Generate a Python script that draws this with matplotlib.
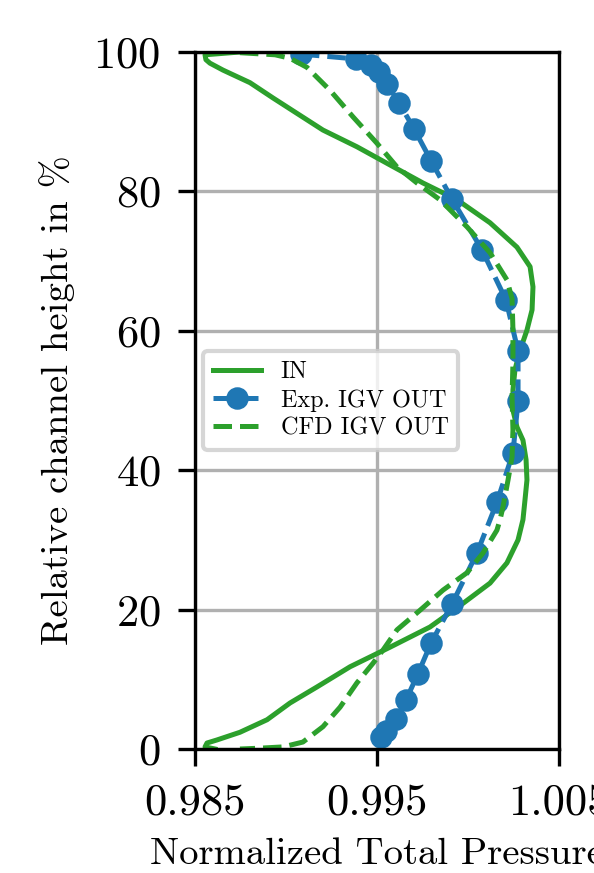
import matplotlib
matplotlib.use("Agg")
import matplotlib.pyplot as plt

plt.rcParams["font.family"] = "serif"
plt.rcParams["font.serif"] = ["cmr10"]
plt.rcParams["mathtext.fontset"] = "cm"
plt.rcParams["axes.formatter.use_mathtext"] = True

# IN (inlet) profile
in_p = [0.98747, 0.98555, 0.98560, 0.98582, 0.98654, 0.98802, 0.98929, 0.99060, 0.99203,
        0.99390, 0.99571, 0.99753, 0.99940, 1.00121, 1.00269, 1.00341, 1.00357, 1.00352,
        1.00324, 1.00286, 1.00258, 1.00247, 1.00247, 1.00269, 1.00302, 1.00319, 1.00324,
        1.00313, 1.00302, 1.00275, 1.00214, 1.00121, 0.99973, 0.99791, 0.99571, 0.99352,
        0.99170, 0.99022, 0.98896, 0.98747, 0.98621, 0.98566, 0.98555, 0.98610]
in_h = [100.0, 99.6, 98.9, 98.4, 97.4, 95.6, 93.4, 91.2, 88.8,
        86.4, 83.8, 81.2, 78.8, 75.5, 72.0, 69.2, 66.3, 63.0,
        60.1, 57.2, 54.4, 51.5, 48.6, 46.2, 44.3, 41.5, 38.6,
        35.7, 32.9, 30.0, 26.7, 23.8, 20.9, 17.5, 14.6, 11.8,
        8.9, 6.6, 4.2, 2.4, 1.3, 0.86, 0.3, 0.0]

# Experimental IGV outlet
exp_p = [0.99082, 0.99385, 0.99467, 0.99511, 0.99555, 0.99621, 0.99703, 0.99797, 0.99912,
         1.00077, 1.00209, 1.00275, 1.00275, 1.00247, 1.00159, 1.00049, 0.99912, 0.99797,
         0.99725, 0.99659, 0.99604, 0.99549, 0.99522]
exp_h = [99.7, 99.0, 98.1, 97.1, 95.4, 92.7, 89.0, 84.4, 78.9,
         71.6, 64.4, 57.1, 49.9, 42.5, 35.4, 28.1, 20.8, 15.2,
         10.8, 7.0, 4.3, 2.6, 1.7]

# CFD IGV outlet
cfd_p = [0.98747, 0.98940, 0.99022, 0.99115, 0.99242, 0.99368, 0.99500, 0.99610, 0.99720,
         0.99846, 0.99995, 1.00121, 1.00214, 1.00242, 1.00247, 1.00247, 1.00242, 1.00247,
         1.00242, 1.00220, 1.00192, 1.00176, 1.00159, 1.00082, 0.99995, 0.99863, 0.99736,
         0.99610, 0.99533, 0.99478, 0.99390, 0.99297, 0.99203, 0.99093, 0.98984, 0.98841,
         0.98747]
cfd_h = [99.9, 99.6, 99.1, 97.8, 94.5, 90.7, 86.9, 83.5, 81.2,
         78.8, 74.9, 71.2, 67.3, 64.6, 60.1, 55.4, 50.5, 45.8,
         41.9, 38.6, 34.7, 32.9, 31.4, 28.1, 25.3, 22.8, 19.9,
         17.1, 14.2, 12.3, 9.5, 6.0, 3.2, 1.0, 0.3, 0.1,
         0.0]

x_ticks = [0.985, 0.995, 1.005]
x_ticklabels = ["0.985", "0.995", "1.005"]
y_ticks = [0, 20, 40, 60, 80, 100]

green = "#2ca02c"
blue = "#1f77b4"

fig = plt.figure(figsize=(1.98, 2.91), dpi=300)
ax = fig.add_axes([195 / 594, 1 - 749 / 873, 364 / 594, 697 / 873])

ax.plot(in_p, in_h, "-", color=green, lw=1.2, label="IN")
ax.plot(exp_p, exp_h, "o--", color=blue, lw=1.2, ms=4.4, label="Exp. IGV OUT")
ax.plot(cfd_p, cfd_h, "--", color=green, lw=1.2, label="CFD IGV OUT")

ax.set_xlim(0.985, 1.005)
ax.set_ylim(0, 100)
ax.set_xticks(x_ticks)
ax.set_xticklabels(x_ticklabels)
ax.set_yticks(y_ticks)
ax.tick_params(labelsize=10.7, length=4, pad=4.3)
ax.grid(True, color="#b0b0b0", lw=0.8)
ax.set_axisbelow(True)

ax.set_xlabel("Normalized Total Pressure", fontsize=9.3, labelpad=3.5)
ax.set_ylabel("Relative channel height in %", fontsize=9.3, labelpad=4.5)

ax.legend(loc="center left", bbox_to_anchor=(0.0, 0.5), fontsize=5.8,
          labelspacing=0.25, borderaxespad=0.35)

fig.savefig("out.png", dpi=300)
